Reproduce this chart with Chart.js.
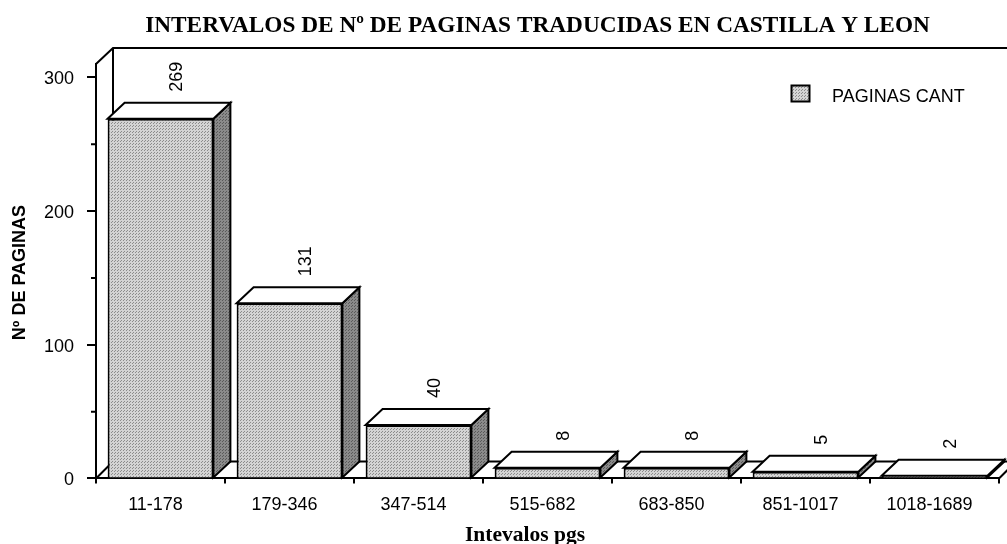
<!DOCTYPE html>
<html><head><meta charset="utf-8">
<style>html,body{margin:0;padding:0;background:#fff}#w{width:1007px;height:544px;position:relative}</style>
<script src="https://cdn.jsdelivr.net/npm/chart.js@4"></script></head>
<body><div id="w"><canvas id="c" width="1007" height="544"></canvas></div>
<script>
const categories=['11-178','179-346','347-514','515-682','683-850','851-1017','1018-1689'];
const paginas=[269,131,40,8,8,5,2];
const yTicks=[0,100,200,300];
const yMinorTicks=[50,150,250];
const seriesName='PAGINAS CANT';
const titleText='INTERVALOS DE Nº DE PAGINAS TRADUCIDAS EN CASTILLA Y LEON';
const xTitle='Intevalos pgs';
const yTitle='Nº DE PAGINAS';
const depth=17;
function pat(bg,dot){const p=document.createElement('canvas');p.width=3;p.height=3;const g=p.getContext('2d');
 g.fillStyle=bg;g.fillRect(0,0,3,3);g.fillStyle=dot;g.fillRect(0,0,1,1);g.fillRect(1,2,1,1);
 return document.createElement('canvas').getContext('2d').createPattern(p,'repeat');}
const front=pat('#d4d4d4','#8c8c8c');
const side=pat('#8a8a8a','#5a5a5a');
function poly(ctx,pts,fill){ctx.beginPath();pts.forEach((p,i)=>i?ctx.lineTo(p[0],p[1]):ctx.moveTo(p[0],p[1]));ctx.closePath();
 ctx.fillStyle=fill;ctx.fill();ctx.lineWidth=2;ctx.strokeStyle='#000';ctx.lineJoin='miter';ctx.stroke();}
const threeD={id:'threeD',
 afterLayout(ch){ch.titleBlock.left=2*537.5-ch.titleBlock.right;},
 beforeDatasetsDraw(ch){const {ctx,chartArea:a,scales:{y}}=ch;const y0=y.getPixelForValue(0),top=a.top;
  ctx.save();ctx.strokeStyle='#000';ctx.lineWidth=2;ctx.beginPath();
  ctx.moveTo(a.left,top);ctx.lineTo(a.left+depth,top-depth+1);ctx.lineTo(1007,top-depth+1);
  ctx.moveTo(a.left+depth,top-depth+1);ctx.lineTo(a.left+depth,y0-depth);ctx.lineTo(a.right+depth,y0-depth);
  ctx.moveTo(a.left,y0);ctx.lineTo(a.left+depth,y0-depth);
  ctx.moveTo(a.right,y0);ctx.lineTo(a.right+depth,y0-depth);
  yMinorTicks.forEach(v=>{const p=y.getPixelForValue(v);ctx.moveTo(a.left-5,p);ctx.lineTo(a.left,p);});
  ctx.stroke();
  ch.getDatasetMeta(0).data.forEach(b=>{const l=b.x-b.width/2,r=b.x+b.width/2,t=b.y,bo=b.base;
   poly(ctx,[[r,t],[r+depth,t-depth+1],[r+depth,bo-depth+1],[r,bo]],side);
   poly(ctx,[[l,t],[l+depth,t-depth+1],[r+depth,t-depth+1],[r,t]],'#fff');
  });ctx.restore();},
 afterDatasetsDraw(ch){const {ctx}=ch;ctx.save();ctx.fillStyle='#000';ctx.font='18px "Liberation Sans"';
  ch.getDatasetMeta(0).data.forEach((b,i)=>{ctx.save();ctx.translate(b.x+depth,b.y-depth-10);ctx.rotate(-Math.PI/2);
   ctx.textAlign='left';ctx.textBaseline='middle';ctx.fillText(String(paginas[i]),0,0);ctx.restore();});
  ctx.fillStyle=front;ctx.fillRect(791.5,85.5,18,16);ctx.strokeStyle='#000';ctx.lineWidth=2;ctx.strokeRect(791.5,85.5,18,16);
  ctx.fillStyle='#000';ctx.textAlign='left';ctx.textBaseline='middle';ctx.fillText(seriesName,832,97);
  ctx.font='bold 21.5px "Liberation Serif"';ctx.textAlign='center';ctx.fillText(xTitle,525,535);
  ctx.save();ctx.translate(20,272.5);ctx.rotate(-Math.PI/2);ctx.font='bold 18px "Liberation Sans"';ctx.fillText(yTitle,0,0);ctx.restore();
  ctx.restore();}
};
new Chart(document.getElementById('c'),{type:'bar',
 data:{labels:categories,datasets:[{label:seriesName,data:paginas,backgroundColor:front,borderColor:'#000',borderWidth:2,barPercentage:0.82,categoryPercentage:1}]},
 plugins:[threeD],
 options:{responsive:false,animation:false,
  layout:{padding:{left:0,right:8,top:0,bottom:0}},
  plugins:{legend:{display:false},tooltip:{enabled:false},
   title:{display:true,text:titleText,color:'#000',font:{family:'"Liberation Serif"',size:23.3,weight:'bold'},padding:{top:12,bottom:24}}},
  scales:{
   x:{grid:{drawOnChartArea:false,color:'#000',tickLength:5,lineWidth:2},border:{color:'#000',width:2},
    ticks:{color:'#000',font:{family:'"Liberation Sans"',size:18},padding:11,maxRotation:0,autoSkip:false,labelOffset:-5},
    afterFit(s){s.height=65.5;}},
   y:{min:0,max:310,grid:{drawOnChartArea:false,color:'#000',tickLength:9,lineWidth:2},border:{color:'#000',width:2},
    afterBuildTicks(s){s.ticks=yTicks.map(v=>({value:v}));},
    ticks:{color:'#000',font:{family:'"Liberation Sans"',size:18},padding:13,labelOffset:2},
    afterFit(s){s.width=96;}}
  }}});
</script></body></html>
